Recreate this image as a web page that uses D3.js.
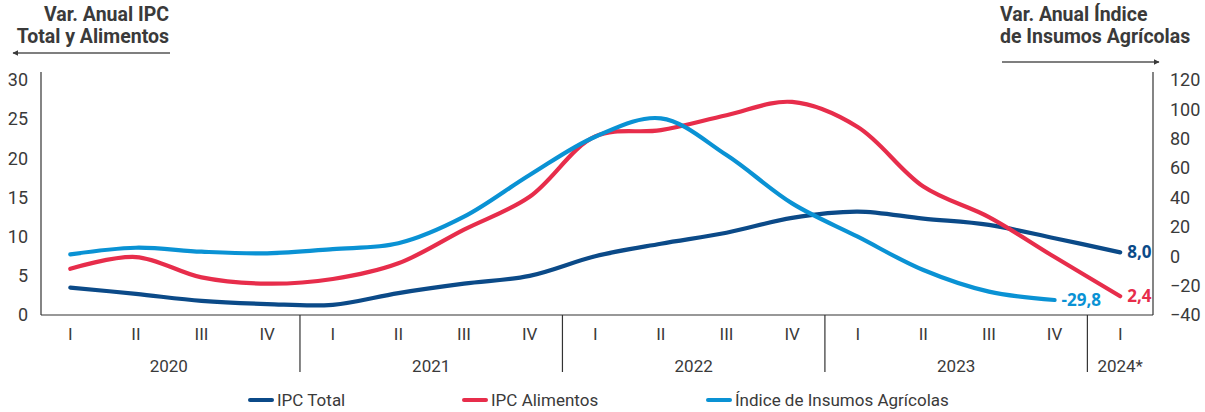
<!DOCTYPE html>
<html>
<head>
<meta charset="utf-8">
<script src="https://cdn.jsdelivr.net/npm/d3@7"></script>
<style>
  body { margin: 0; background: #fff; }
  text { font-family: "Liberation Sans Narrow", "Roboto", sans-serif; fill: #3a3a3a; }
  .title { font-family: "Roboto", "Noto Sans", sans-serif; font-weight: 700; font-size: 19.5px; fill: #3a3a3a; }
  .endlbl { font-family: "Open Sans", "Noto Sans", sans-serif; font-weight: 700; font-size: 17px; }
</style>
</head>
<body>
<div id="chart"></div>
<script>
// quarters and years
const years = ["2020", "2021", "2022", "2023", "2024*"];
const quarters = [
  "2020-I", "2020-II", "2020-III", "2020-IV",
  "2021-I", "2021-II", "2021-III", "2021-IV",
  "2022-I", "2022-II", "2022-III", "2022-IV",
  "2023-I", "2023-II", "2023-III", "2023-IV",
  "2024*-I"
];
const leftTicks = [0, 5, 10, 15, 20, 25, 30];
const rightTicks = [-40, -20, 0, 20, 40, 60, 80, 100, 120];

// series values (annual % change)
const ipcTotal = [3.5, 2.7, 1.8, 1.4, 1.3, 2.8, 4.0, 5.0, 7.5, 9.1, 10.5, 12.4, 13.2, 12.3, 11.5, 9.8, 8.0];
const ipcAlimentos = [5.9, 7.4, 4.8, 4.0, 4.6, 6.6, 10.9, 15.1, 22.8, 23.6, 25.5, 27.2, 24.0, 16.4, 12.5, 7.4, 2.4];
const insumos = [1.3, 5.8, 3.1, 2.0, 4.9, 8.8, 26.9, 55.3, 81.4, 93.9, 68.9, 36.0, 13.3, -9.4, -24.1, -29.8];

const legendNames = ["IPC Total", "IPC Alimentos", "Índice de Insumos Agrícolas"];
const colors = ["#0b4a88", "#e72d4b", "#0a92d4"];

var width = 1205, height = 412;
var plotLeft = 41, plotRight = 1153, plotTop = 72, plotBottom = 315;

var svg = d3.select("#chart").append("svg")
  .attr("width", width).attr("height", height);

var x = d3.scaleBand().domain(quarters).range([37.5, plotRight]).padding(0);
var yL = d3.scaleLinear().domain([0, 30]).range([plotBottom, 80]);
var yR = d3.scaleLinear().domain([-40, 120]).range([plotBottom, 80]);
var cx = (q) => x(q) + x.bandwidth() / 2;

// left axis
var gL = svg.append("g").attr("transform", "translate(" + plotLeft + ",0)")
  .call(d3.axisLeft(yL).tickValues(leftTicks).tickSize(0).tickPadding(13));
gL.select(".domain").remove();
gL.selectAll("text").attr("font-size", 18).attr("font-family", null).style("fill", "#3a3a3a");
svg.append("line").attr("x1", plotLeft).attr("x2", plotLeft).attr("y1", plotTop).attr("y2", plotBottom)
  .attr("stroke", "#333").attr("stroke-width", 1.2);

// right axis
var gR = svg.append("g").attr("transform", "translate(" + plotRight + ",0)")
  .call(d3.axisRight(yR).tickValues(rightTicks).tickSize(0).tickPadding(17));
gR.select(".domain").remove();
gR.selectAll("text").attr("font-size", 18).attr("font-family", null).style("fill", "#3a3a3a");
svg.append("line").attr("x1", plotRight).attr("x2", plotRight).attr("y1", plotTop).attr("y2", plotBottom)
  .attr("stroke", "#333").attr("stroke-width", 1.2);

// bottom axis
var gB = svg.append("g").attr("transform", "translate(0," + plotBottom + ")")
  .call(d3.axisBottom(x).tickSize(0).tickPadding(13).tickFormat((d) => d.split("-")[1]));
gB.select(".domain").remove();
gB.selectAll("text").attr("font-size", 17).attr("font-family", null).style("fill", "#3a3a3a");
svg.append("line").attr("x1", plotLeft).attr("x2", plotRight).attr("y1", plotBottom).attr("y2", plotBottom)
  .attr("stroke", "#333").attr("stroke-width", 1.2);

// year separators and labels
years.forEach(function (yr, i) {
  var qs = quarters.filter((q) => q.startsWith(yr + "-"));
  var x0 = x(qs[0]), x1 = x(qs[qs.length - 1]) + x.bandwidth();
  if (i > 0) {
    svg.append("line").attr("x1", x0).attr("x2", x0).attr("y1", plotBottom).attr("y2", 372)
      .attr("stroke", "#333").attr("stroke-width", 1.2);
  }
  svg.append("text").attr("x", (x0 + x1) / 2).attr("y", 372)
    .attr("text-anchor", "middle").attr("font-size", 17).text(yr);
});

// lines
var series = [
  { vals: ipcTotal, y: yL, color: colors[0] },
  { vals: ipcAlimentos, y: yL, color: colors[1] },
  { vals: insumos, y: yR, color: colors[2] }
];
series.forEach(function (s) {
  var line = d3.line()
    .x((d, i) => cx(quarters[i]))
    .y((d) => s.y(d))
    .curve(d3.curveCatmullRom.alpha(0.5));
  svg.append("path").datum(s.vals)
    .attr("d", line)
    .attr("fill", "none")
    .attr("stroke", s.color)
    .attr("stroke-width", 4.2)
    .attr("stroke-linecap", "round")
    .attr("stroke-linejoin", "round");
});

// end labels
var fmt = (v) => d3.format(".1f")(v).replace(".", ",").replace("\u2212", "-");
series.forEach(function (s) {
  var n = s.vals.length - 1;
  svg.append("text").attr("class", "endlbl")
    .attr("x", cx(quarters[n]) + 7)
    .attr("y", s.y(s.vals[n]))
    .attr("dy", "0.35em")
    .style("fill", s.color)
    .text(fmt(s.vals[n]));
});

// axis titles
svg.append("text").attr("class", "title").attr("text-anchor", "end")
  .attr("x", 169).attr("y", 21).text("Var. Anual IPC");
svg.append("text").attr("class", "title").attr("text-anchor", "end")
  .attr("x", 169).attr("y", 43).text("Total y Alimentos");
svg.append("text").attr("class", "title")
  .attr("x", 1000).attr("y", 21).text("Var. Anual Índice");
svg.append("text").attr("class", "title")
  .attr("x", 1000).attr("y", 43).text("de Insumos Agrícolas");

svg.append("defs").append("marker")
  .attr("id", "arr").attr("viewBox", "0 0 10 10").attr("refX", 9).attr("refY", 5)
  .attr("markerWidth", 4).attr("markerHeight", 4).attr("orient", "auto-start-reverse")
  .append("path").attr("d", "M0,0L10,5L0,10z").attr("fill", "#3a3a3a");
svg.append("line").attr("x1", 170).attr("x2", 13).attr("y1", 53).attr("y2", 53)
  .attr("stroke", "#555").attr("stroke-width", 1.4).attr("marker-end", "url(#arr)");
svg.append("line").attr("x1", 1002).attr("x2", 1159).attr("y1", 62).attr("y2", 62)
  .attr("stroke", "#555").attr("stroke-width", 1.4).attr("marker-end", "url(#arr)");

// legend
var legX = [248, 462, 706];
legendNames.forEach(function (name, i) {
  var g = svg.append("g").attr("transform", "translate(" + legX[i] + ",400)");
  g.append("line").attr("x1", 2).attr("x2", 24).attr("y1", 0).attr("y2", 0)
    .attr("stroke", colors[i]).attr("stroke-width", 4).attr("stroke-linecap", "round");
  g.append("text").attr("x", 29).attr("y", 0).attr("dy", "0.35em")
    .attr("font-size", 17).text(name);
});
</script>
</body>
</html>
